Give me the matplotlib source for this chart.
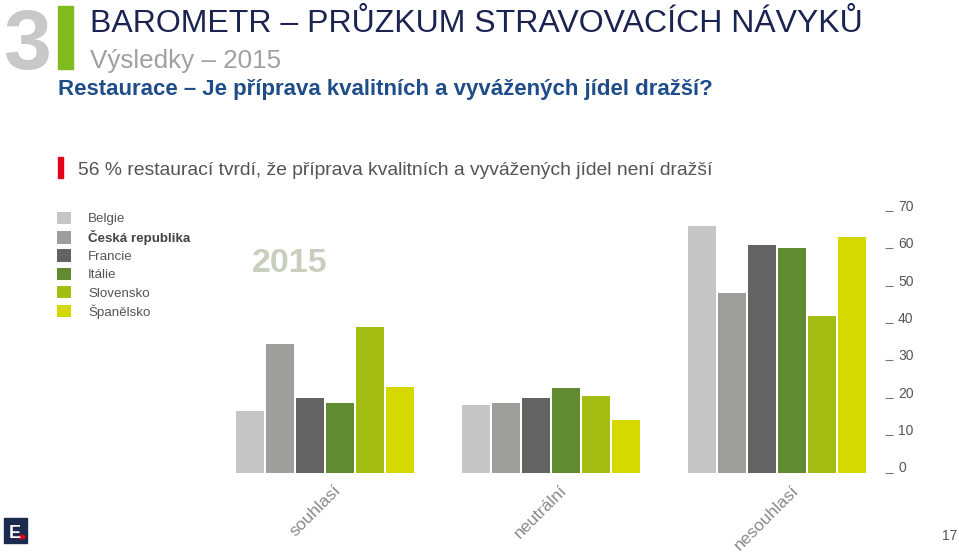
import numpy as np
import matplotlib
matplotlib.use('Agg')
import matplotlib.pyplot as plt
import matplotlib.transforms as mtransforms
from matplotlib.patches import Rectangle, Circle

plt.rcParams['font.family'] = ['Liberation Sans', 'DejaVu Sans']

# data (percent)
groups = ['souhlasí', 'neutrální', 'nesouhlasí']
countries = ['Belgie', 'Česká republika', 'Francie', 'Itálie', 'Slovensko', 'Španělsko']
belgie = [16.5, 18, 66]
ceska = [34.5, 18.5, 48]
francie = [20, 20, 61]
italie = [18.5, 22.5, 60]
slovensko = [39, 20.5, 42]
spanelsko = [23, 14, 63]
series = [belgie, ceska, francie, italie, slovensko, spanelsko]
colors = ['#c6c6c6', '#9e9e9b', '#636363', '#618b30', '#a3bd12', '#d5d900']
yticks = [0, 10, 20, 30, 40, 50, 60, 70]

W, H = 959, 552
fig = plt.figure(figsize=(W / 100, H / 100), dpi=100)


def px(x, y):
    # pixel position (from top left) -> figure fraction
    return x / W, 1 - y / H


# axes placed in pixels: left 220, right 885, top 203.5, bottom 472.5
ax = fig.add_axes([220 / W, (H - 472.5) / H, 665 / W, (472.5 - 203.5) / H])

gstep = 7.533
gx = np.arange(len(groups)) * gstep
bars = []
for i, (vals, c) in enumerate(zip(series, colors)):
    b = ax.bar(gx + i, vals, width=0.93, color=c, label=countries[i])
    bars.append(b)

ax.set_xlim(-1.0, 21.17)
ax.set_ylim(0, 72)
for s in ax.spines.values():
    s.set_visible(False)

ax.yaxis.tick_right()
ax.set_yticks(yticks)
ax.tick_params(axis='y', length=5.8, width=0.8, color='#777777', pad=3.6,
               labelsize=10, labelcolor='#555555')
for lab in ax.get_yticklabels():
    lab.set_va('baseline')

ax.set_xticks(gx + 2.5)
ax.set_xticklabels(groups, rotation=45, ha='center', va='top',
                   fontsize=12.5, color='#8a8a8a')
ax.tick_params(axis='x', length=0, pad=7)
shift = mtransforms.ScaledTranslation(-10 / 100, 0, fig.dpi_scale_trans)
for lab in ax.get_xticklabels():
    lab.set_transform(lab.get_transform() + shift)

# legend
leg = fig.legend(handles=bars, labels=countries, loc='upper left',
                 bbox_to_anchor=px(50, 205), frameon=False, borderpad=0,
                 handlelength=1.05, handleheight=1.05, labelspacing=0.34,
                 handletextpad=1.3, fontsize=9.6)
for t in leg.get_texts():
    t.set_color('#555555')
leg.get_texts()[1].set_fontweight('bold')
leg.get_texts()[1].set_color('#444444')

fig.text(*px(252, 272), '2015', fontsize=24.5, fontweight='bold',
         color='#c9cfbf', va='baseline')

# header
fig.text(*px(3, 69), '3', fontsize=62, fontweight='bold', color='#c8c8c8',
         va='baseline')
fig.add_artist(Rectangle(px(58, 69), 15 / W, 63 / H, color='#80bc1f',
                         transform=fig.transFigure))
fig.text(*px(90, 32), 'BAROMETR – PRŮZKUM STRAVOVACÍCH NÁVYKŮ', fontsize=23,
         color='#1b2350', va='baseline')
fig.text(*px(90, 68), 'Výsledky – 2015', fontsize=18.7, color='#a0a0a0',
         va='baseline')
fig.text(*px(58, 95), 'Restaurace – Je příprava kvalitních a vyvážených jídel dražší?',
         fontsize=16, fontweight='bold', color='#1f4d8a', va='baseline')
fig.add_artist(Rectangle(px(58, 178), 5 / W, 21 / H, color='#e2001a',
                         transform=fig.transFigure))
fig.text(*px(78, 175),
         '56 % restaurací tvrdí, že příprava kvalitních a vyvážených jídel není dražší',
         fontsize=13.85, color='#555555', va='baseline')

# logo + page number
fig.add_artist(Rectangle(px(4, 543), 23 / W, 25 / H, color='#1c2a4e',
                         transform=fig.transFigure))
fig.text(*px(9, 538), 'E', fontsize=13, fontweight='bold', color='white',
         va='baseline')
fig.add_artist(Circle(px(22, 537), 3 / W, color='#e2001a',
                      transform=fig.transFigure))
fig.text(*px(957, 540), '17', fontsize=10, color='#555555', ha='right',
         va='baseline')

fig.savefig('out.png', dpi=100)
